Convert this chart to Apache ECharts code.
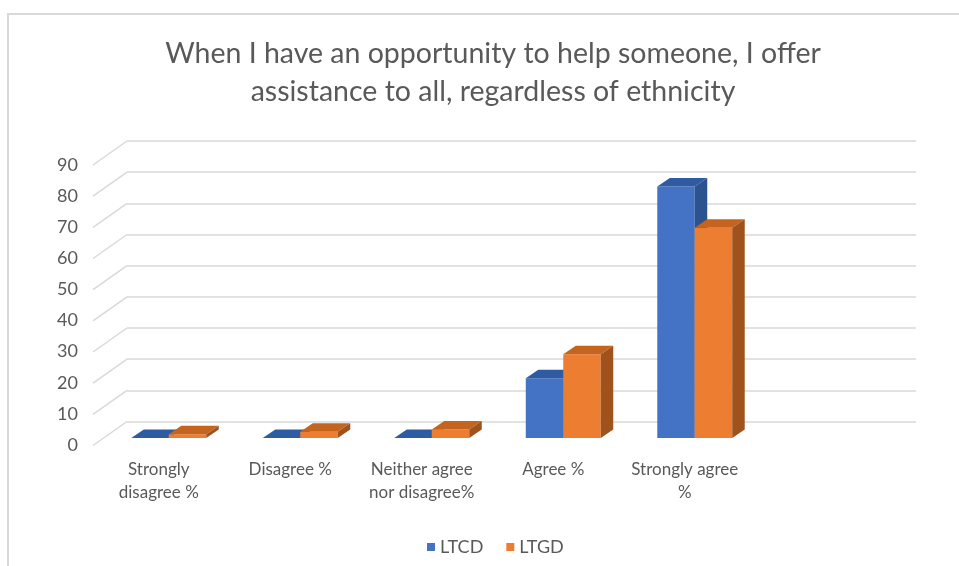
<!DOCTYPE html>
<html>
<head>
<meta charset="utf-8">
<script src="https://cdn.jsdelivr.net/npm/echarts@6/dist/echarts.min.js"></script>
<style>html,body{margin:0;padding:0;background:#fff;}#c{width:959px;height:566px;}</style>
</head>
<body>
<div id="c"></div>
<script>
// ---- data ----
const categories = ['Strongly\ndisagree %', 'Disagree %', 'Neither agree\nnor disagree%', 'Agree %', 'Strongly agree\n%', ''];
const seriesNames = ['LTCD', 'LTGD'];
const ltcd = [0, 0, 0, 19.2, 80.8];
const ltgd = [1.2, 2.0, 2.7, 26.9, 67.6];
const yTicks = [0, 10, 20, 30, 40, 50, 60, 70, 80, 90];
const titleText = 'When I have an opportunity to help someone, I offer\nassistance to all, regardless of ethnicity';

// ---- style ----
const FONT = 'Lato, "Open Sans", sans-serif';
const TXT = '#595959';
const GRIDC = '#d9d9d9';
const DX = 12.5, DY = -8.5;           // bar depth offset
const FLOOR_DX = -34, FLOOR_DY = 24;  // floor depth (back -> front)
const blue = {front: '#4472C4', top: '#2F5BA3', side: '#2D5290'};
const orange = {front: '#ED7D31', top: '#C5641F', side: '#A0521C'};

function barRender(side, col) {
  return function (params, api) {
    const i = api.value(0), v = api.value(1);
    const base = api.coord([i, 0]);
    const top = api.coord([i, v]);
    const band = api.size([1, 0])[0];
    const w = band * 0.285;
    const x0 = side < 0 ? base[0] - w : base[0];
    const x1 = x0 + w;
    const yb = base[1], yt = top[1];
    return {
      type: 'group',
      children: [
        {type: 'polygon', shape: {points: [[x0, yb], [x1, yb], [x1, yt], [x0, yt]]}, style: {fill: col.front}},
        {type: 'polygon', shape: {points: [[x0, yt], [x1, yt], [x1 + DX, yt + DY], [x0 + DX, yt + DY]]}, style: {fill: col.top}},
        {type: 'polygon', shape: {points: [[x1, yb], [x1 + DX, yb + DY], [x1 + DX, yt + DY], [x1, yt]]}, style: {fill: col.side}}
      ]
    };
  };
}

const chart = echarts.init(document.getElementById('c'), null, {renderer: 'canvas'});
const option = {
  backgroundColor: '#fff',
  animation: false,
  graphic: [{
    type: 'rect', z: -10,
    shape: {x: 8, y: 14, width: 1000, height: 600},
    style: {fill: 'none', stroke: '#d9d9d9', lineWidth: 2}
  }],
  title: {
    text: titleText,
    left: 488, top: 30, textAlign: 'center',
    textStyle: {fontFamily: FONT, fontSize: 28.5, fontWeight: 'normal', color: TXT, lineHeight: 38}
  },
  legend: {
    data: seriesNames,
    top: 533, left: 422,
    icon: 'rect', itemWidth: 8, itemHeight: 8, itemGap: 23,
    textStyle: {fontFamily: FONT, fontSize: 18, color: TXT}
  },
  grid: [
    // 0: front floor edge (labels)
    {left: 93, right: 77, top: 165, bottom: 121},
    // 1: back wall
    {left: 127, right: 43, top: 141, bottom: 144.5},
    // 2: bar front plane
    {left: 103, right: 67, top: 158, bottom: 128}
  ],
  xAxis: [
    {gridIndex: 0, type: 'category', data: categories,
     axisLine: {show: false}, axisTick: {show: false}, splitLine: {show: false},
     axisLabel: {interval: 0, margin: 13, fontFamily: FONT, fontSize: 17, color: TXT, lineHeight: 23}},
    {gridIndex: 1, type: 'category', data: categories, show: false},
    {gridIndex: 2, type: 'category', data: categories, show: false}
  ],
  yAxis: [
    {gridIndex: 0, type: 'value', min: 0, max: 90, interval: 10,
     axisLine: {show: false}, axisTick: {show: false}, splitLine: {show: false},
     axisLabel: {margin: 15, fontFamily: FONT, fontSize: 18, color: TXT}},
    {gridIndex: 1, type: 'value', min: 0, max: 90, interval: 10,
     axisLine: {show: false}, axisTick: {show: false}, axisLabel: {show: false},
     splitLine: {show: true, lineStyle: {color: GRIDC, width: 1.5}}},
    {gridIndex: 2, type: 'value', min: 0, max: 90, interval: 10, show: false,
     splitLine: {show: false}}
  ],
  series: [
    {
      type: 'custom', name: '_floor', xAxisIndex: 1, yAxisIndex: 1, silent: true,
      data: yTicks.map(v => [0, v]),
      renderItem: function (params, api) {
        const p = api.coord([0, api.value(1)]);
        const x0 = params.coordSys.x;
        return {type: 'line', shape: {x1: x0, y1: p[1], x2: x0 + FLOOR_DX, y2: p[1] + FLOOR_DY},
                style: {stroke: GRIDC, lineWidth: 1.5}};
      }
    },
    {
      type: 'custom', name: seriesNames[0], xAxisIndex: 2, yAxisIndex: 2,
      itemStyle: {color: blue.front},
      data: ltcd.map((v, i) => [i, v]),
      renderItem: barRender(-1, blue)
    },
    {
      type: 'custom', name: seriesNames[1], xAxisIndex: 2, yAxisIndex: 2,
      itemStyle: {color: orange.front},
      data: ltgd.map((v, i) => [i, v]),
      renderItem: barRender(1, orange)
    }
  ]
};
chart.setOption(option);
</script>
</body>
</html>
